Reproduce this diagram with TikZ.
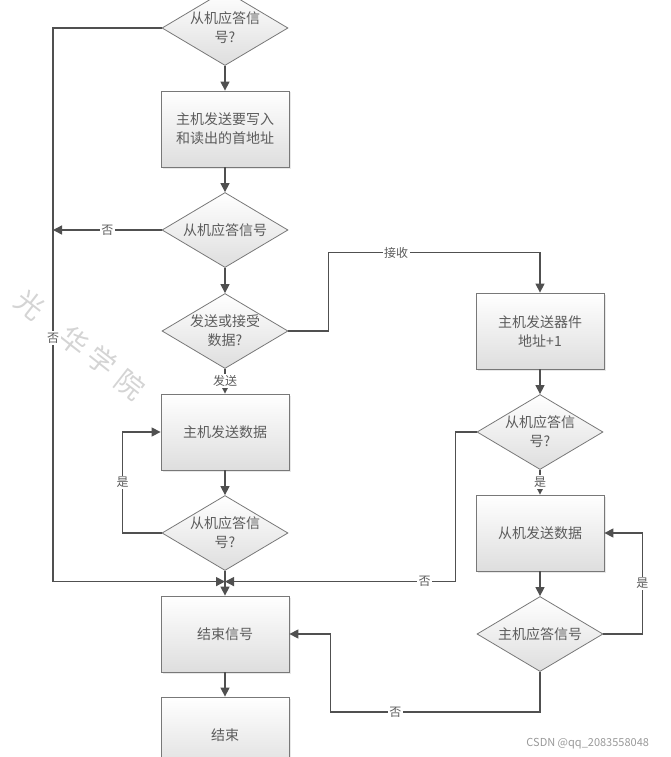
\documentclass[tikz,border=0pt]{standalone}
\usepackage{fontspec}
\setmainfont{Noto Sans CJK SC}
\usepackage{tikz}
\usetikzlibrary{arrows.meta}
\usetikzlibrary{positioning}
\usetikzlibrary{shapes.geometric}
\usetikzlibrary{shadows}
\usetikzlibrary{calc}

\definecolor{linegray}{HTML}{505050}
\definecolor{bordergray}{HTML}{787878}
\definecolor{textgray}{HTML}{5C5C5C}

\begin{document}
\begin{tikzpicture}[
		x=1pt,
		y=-1pt,
		->,
		>={Triangle[length=9pt,width=9pt]},
		node distance=101pt,
		line width=1.4pt,
		draw=linegray,
		main node/.style={
			font=\fontsize{14}{19}\selectfont,
			text=textgray,
			align=center,
			draw=bordergray,
			line width=0.8pt,
			top color=white,
			bottom color=black!13
		},
		box node/.style={
			main node,
			rectangle,
			minimum width=128pt,
			minimum height=76pt,
			drop shadow={shadow xshift=1.5pt, shadow yshift=-1.5pt, fill=black!18}
		},
		decision node/.style={
			main node,
			diamond,
			aspect=1.67,
			inner sep=0pt,
			minimum width=126pt,
			minimum height=75pt
		},
		label node/.style={
			fill=white,
			font=\fontsize{12}{14}\selectfont,
			text=textgray,
			inner sep=1.5pt
		},
		mark node/.style={
			text=black!17,
			font=\fontsize{28}{30}\selectfont,
			inner sep=0pt,
			rotate=-38
		}
		]
		
		\useasboundingbox (0,0) rectangle (671,757);
		\clip (0,0) rectangle (671,757);
		
		% faint watermarks
		\node[mark node] (w1) at (30,305) {光};
		\node[mark node] (w2) at (74,341) {华};
		\node[mark node] (w3) at (102,361) {学};
		\node[mark node] (w4) at (130,385) {院};
		\node[anchor=east, text=black!40, font=\fontsize{11}{13}\selectfont] (wm) at (653,744) {CSDN @qq\_2083558048};
		
		\node[decision node] (n1) at (225,28) {从机应答信\\号?};
		\node[box node] (n2) [below of=n1] {主机发送要写入\\和读出的首地址};
		\node[decision node] (n3) [below of=n2] {从机应答信号};
		\node[decision node] (n4) [below of=n3] {发送或接受\\数据?};
		\node[box node] (n5) [below of=n4] {主机发送数据};
		\node[decision node] (n6) [below of=n5] {从机应答信\\号?};
		\node[box node] (n7) [below of=n6] {结束信号};
		\node[box node] (n8) [below of=n7] {结束};
		
		\node[box node] (n9) [right of=n4, node distance=315pt] {主机发送器件\\地址+1};
		\node[decision node] (n10) [below of=n9] {从机应答信\\号?};
		\node[box node] (n11) [below of=n10] {从机发送数据};
		\node[decision node] (n12) [below of=n11] {主机应答信号};
		
		\coordinate (m) at ($(n7.north)+(0,-14)$);
		\coordinate (l) at ($(m)+(-172,0)$);
		\coordinate (r) at ($(n9.north)+(0,-40)$);
		\coordinate (b) at ($(n7.east)+(41,78)$);
		
		\path
		(n1) edge (n2)
		(n2) edge (n3)
		(n3) edge (n4)
		(n4) edge node[label node] {发送} (n5)
		(n5) edge (n6)
		(n6) edge (n7)
		(n7) edge (n8)
		(n9) edge (n10)
		(n10) edge node[label node] {是} (n11)
		(n11) edge (n12);
		
		\draw[->] (n1.west) -| node[label node, pos=0.78] {否} (l) -- (m);
		\draw[->] (n3.west) -- node[label node] {否} (n3.west -| l);
		\draw[->] (n6.west) -- ++(-39,0) |- node[label node, pos=0.25] {是} (n5.west);
		\draw[->] (n4.east) -- ++(40,0) |- node[label node, pos=0.66] {接收} (r) -- (n9.north);
		\draw[->] (n10.west) -- ++(-21,0) |- node[label node, pos=0.567] {否} (m);
		\draw[->] (n12.east) -- ++(39,0) |- node[label node, pos=0.25] {是} (n11.east);
		\draw[->] (n12.south) |- node[label node, pos=0.845] {否} (b) |- (n7.east);
	\end{tikzpicture}
\end{document}
